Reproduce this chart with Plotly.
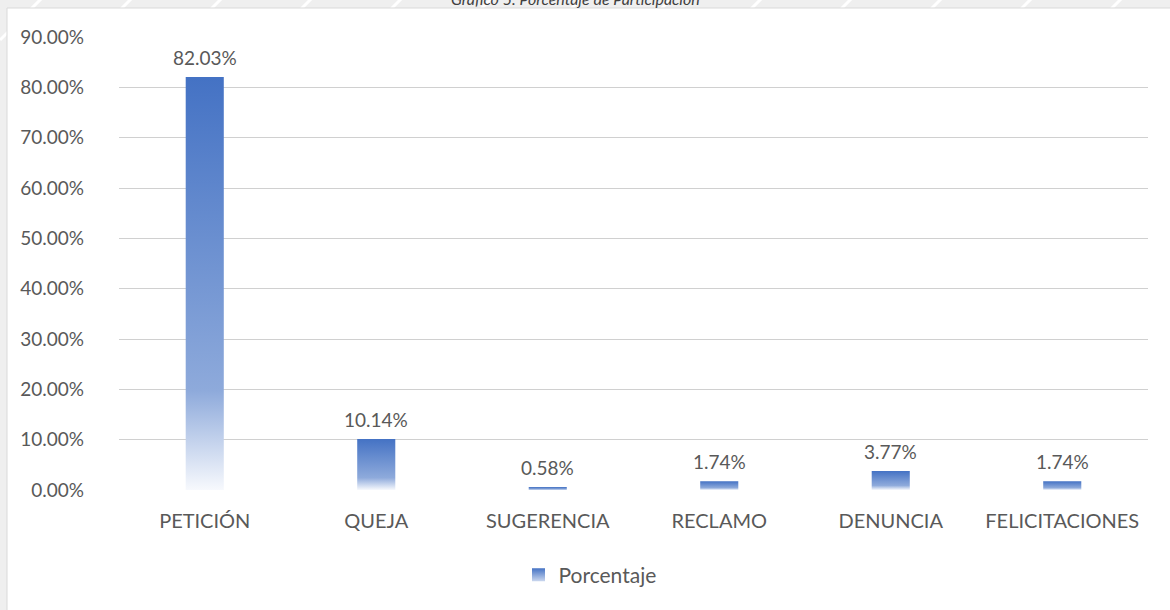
import plotly.graph_objects as go

# Share of each request type
categories = ["PETICIÓN", "QUEJA", "SUGERENCIA", "RECLAMO", "DENUNCIA", "FELICITACIONES"]
porcentaje = [82.03, 10.14, 0.58, 1.74, 3.77, 1.74]
y_ticks = [0, 10, 20, 30, 40, 50, 60, 70, 80, 90]
y_tick_labels = [f"{v:.2f}%" for v in y_ticks]
series_name = "Porcentaje"
title_text = "Gráfico 5. Porcentaje de Participación"

W, H = 1170, 610
M_L, M_R, M_T, M_B = 119, 22, 37, 120
PW, PH = W - M_L - M_R, H - M_T - M_B

BLUE = "#4472C4"
TEXT = "#595959"
FONT = "Lato"
bar_half = 0.111
grad = [[0.0, "#f7f9fd"], [0.24, "#8eaadb"], [1.0, BLUE]]

fig = go.Figure()

# Bars as filled polygons so each one carries its own vertical gradient
for i, (cat, v) in enumerate(zip(categories, porcentaje)):
    fig.add_trace(go.Scatter(
        x=[i - bar_half, i + bar_half, i + bar_half, i - bar_half, i - bar_half],
        y=[0, 0, v, v, 0],
        mode="none",
        fill="toself",
        fillgradient=dict(type="vertical", colorscale=grad),
        showlegend=False,
        hoverinfo="skip",
    ))
    fig.add_annotation(
        x=i, y=v, text=f"{v:.2f}%", showarrow=False,
        yanchor="bottom", yshift=6,
        font=dict(family=FONT, size=19, color=TEXT),
    )

# Legend entry
fig.add_trace(go.Scatter(
    x=[None], y=[None], mode="markers", name=series_name,
    marker=dict(symbol="square", size=13, color=BLUE,
                gradient=dict(type="vertical", color="#c9d6ee")),
))


def px_x(p):
    return (p - M_L) / PW


def px_y(p):
    return (H - M_B - p) / PH


shapes = []
# Outer texture strip with faint diagonal streaks
for k in range(-4, 16):
    x0 = k * 90
    shapes.append(dict(type="line", xref="paper", yref="paper",
                       x0=px_x(x0), y0=px_y(40), x1=px_x(x0 + 60), y1=px_y(-20),
                       line=dict(color="#ffffff", width=3), layer="below"))
# White chart box
shapes.append(dict(type="rect", xref="paper", yref="paper",
                   x0=px_x(7), x1=px_x(1175), y0=px_y(615), y1=px_y(8),
                   fillcolor="#ffffff", line=dict(color="#d9d9d9", width=1),
                   layer="below"))

fig.add_annotation(
    xref="paper", yref="paper", x=px_x(575), y=px_y(-2),
    text=title_text, showarrow=False, xanchor="center", yanchor="middle",
    font=dict(family=FONT, size=16, color="#404040", style="italic"),
)

fig.update_layout(
    width=W, height=H,
    margin=dict(l=M_L, r=M_R, t=M_T, b=M_B),
    paper_bgcolor="#efefef",
    plot_bgcolor="rgba(0,0,0,0)",
    shapes=shapes,
    font=dict(family=FONT, size=20, color=TEXT),
    showlegend=True,
    legend=dict(orientation="h", x=px_x(590), xanchor="center",
                y=px_y(575), yanchor="middle",
                font=dict(family=FONT, size=21, color=TEXT),
                bgcolor="rgba(0,0,0,0)"),
    xaxis=dict(
        range=[-0.5, len(categories) - 0.5],
        tickvals=list(range(len(categories))), ticktext=categories,
        showgrid=False, zeroline=False, showline=False,
        ticks="", ticklabelstandoff=17,
        tickfont=dict(family=FONT, size=20, color=TEXT),
        fixedrange=True,
    ),
    yaxis=dict(
        range=[0, 90], tickvals=y_ticks, ticktext=y_tick_labels,
        showgrid=True, gridcolor="#d0d0d0", gridwidth=1,
        zeroline=False, showline=False, ticks="", ticklabelstandoff=34,
        tickfont=dict(family=FONT, size=19, color=TEXT),
        fixedrange=True,
    ),
)

fig.write_html("out.html")
